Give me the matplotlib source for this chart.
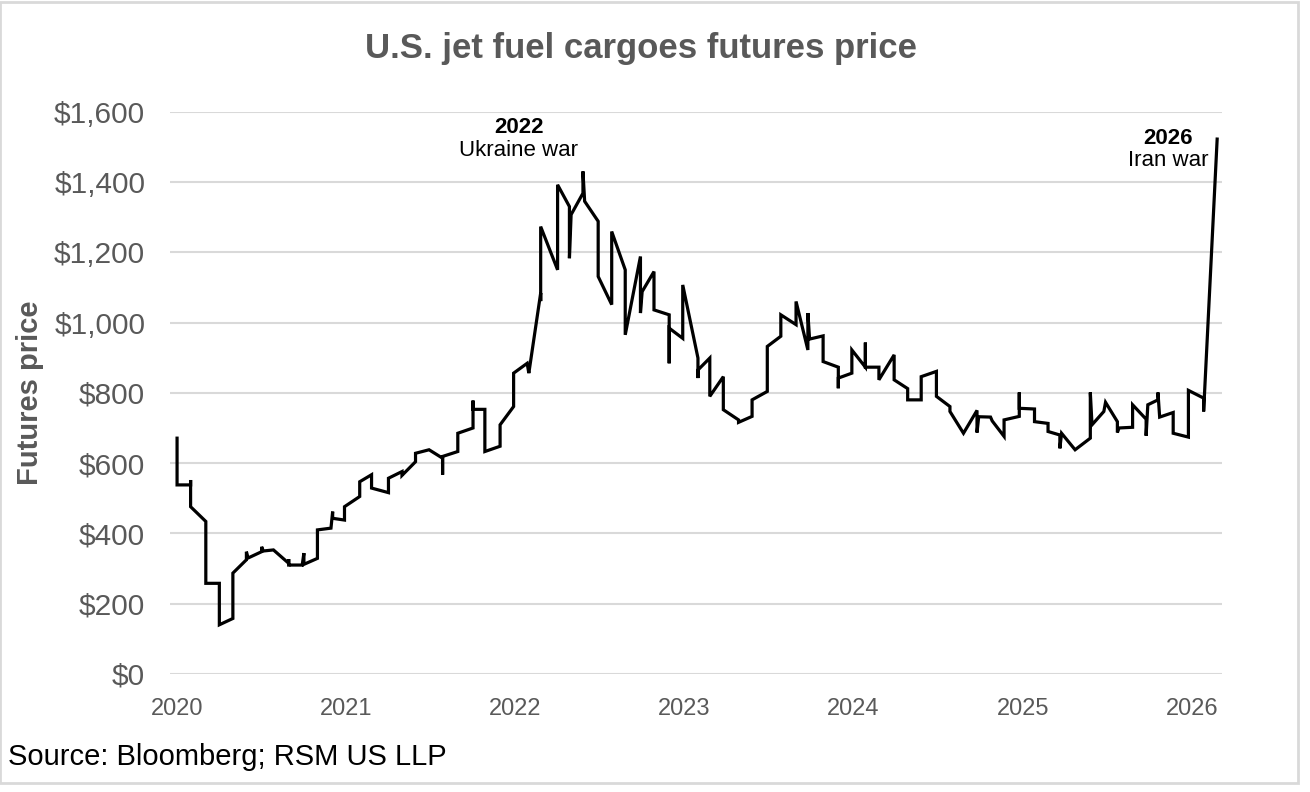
import matplotlib
matplotlib.use('Agg')
import matplotlib.pyplot as plt
from matplotlib.patches import Rectangle
from matplotlib.ticker import FuncFormatter

plt.rcParams['font.family'] = ['Liberation Sans', 'DejaVu Sans']

# Jet fuel futures price, decimal year vs $
years = [
    2020.00, 2020.00, 2020.08, 2020.08, 2020.08, 2020.17, 2020.17, 2020.25, 2020.25, 2020.33,
    2020.33, 2020.41, 2020.41, 2020.42, 2020.50, 2020.50, 2020.51, 2020.57, 2020.66, 2020.66,
    2020.66, 2020.74, 2020.75, 2020.75, 2020.83, 2020.83, 2020.91, 2020.92, 2020.92, 2020.99,
    2020.99, 2021.08, 2021.08, 2021.15, 2021.15, 2021.25, 2021.25, 2021.33, 2021.33, 2021.41,
    2021.41, 2021.49, 2021.57, 2021.57, 2021.57, 2021.66, 2021.66, 2021.75, 2021.75, 2021.75,
    2021.82, 2021.82, 2021.91, 2021.91, 2021.99, 2021.99, 2022.07, 2022.08, 2022.15, 2022.15,
    2022.15, 2022.25, 2022.25, 2022.32, 2022.32, 2022.33, 2022.40, 2022.40, 2022.41, 2022.49,
    2022.49, 2022.57, 2022.57, 2022.65, 2022.65, 2022.74, 2022.74, 2022.75, 2022.82, 2022.82,
    2022.91, 2022.91, 2022.91, 2022.99, 2022.99, 2023.08, 2023.08, 2023.08, 2023.15, 2023.15,
    2023.23, 2023.23, 2023.32, 2023.32, 2023.40, 2023.40, 2023.49, 2023.49, 2023.57, 2023.57,
    2023.66, 2023.66, 2023.73, 2023.73, 2023.74, 2023.82, 2023.82, 2023.91, 2023.91, 2023.91,
    2023.99, 2023.99, 2024.07, 2024.07, 2024.07, 2024.15, 2024.15, 2024.24, 2024.24, 2024.32,
    2024.32, 2024.40, 2024.40, 2024.49, 2024.49, 2024.57, 2024.57, 2024.65, 2024.73, 2024.73,
    2024.74, 2024.81, 2024.82, 2024.89, 2024.89, 2024.98, 2024.98, 2024.98, 2025.07, 2025.07,
    2025.15, 2025.15, 2025.22, 2025.22, 2025.23, 2025.31, 2025.40, 2025.40, 2025.41, 2025.48,
    2025.49, 2025.56, 2025.56, 2025.57, 2025.65, 2025.65, 2025.73, 2025.73, 2025.74, 2025.80,
    2025.80, 2025.81, 2025.89, 2025.89, 2025.98, 2025.98, 2026.07, 2026.07, 2026.15,
]
prices = [
    671, 538, 538, 552, 476, 434, 258, 258, 140, 158,
    287, 325, 348, 330, 348, 362, 350, 353, 315, 327,
    310, 310, 344, 312, 329, 410, 415, 462, 443, 438,
    476, 505, 547, 567, 529, 516, 557, 576, 565, 604,
    628, 638, 614, 567, 619, 633, 685, 700, 778, 753,
    753, 633, 648, 709, 761, 856, 884, 856, 1084, 1061,
    1273, 1150, 1392, 1330, 1183, 1307, 1368, 1430, 1345, 1288,
    1131, 1051, 1259, 1150, 965, 1188, 1027, 1088, 1145, 1036,
    1022, 884, 984, 955, 1107, 899, 842, 865, 899, 790,
    846, 752, 723, 716, 733, 780, 804, 932, 961, 1022,
    994, 1060, 922, 1027, 953, 962, 889, 873, 813, 842,
    856, 922, 873, 943, 873, 873, 837, 908, 837, 812,
    780, 780, 846, 861, 790, 761, 747, 685, 750, 687,
    732, 731, 720, 676, 723, 733, 801, 756, 754, 718,
    713, 690, 680, 642, 685, 638, 671, 801, 709, 747,
    773, 718, 687, 700, 702, 766, 725, 678, 766, 780,
    801, 731, 744, 685, 674, 807, 785, 747, 1522,
]

year_ticks = [2020, 2021, 2022, 2023, 2024, 2025, 2026]
price_ticks = [0, 200, 400, 600, 800, 1000, 1200, 1400, 1600]

grey = '#595959'

fig = plt.figure(figsize=(13.1, 7.92), dpi=100)
ax = fig.add_axes([0.130, 0.149, 0.803, 0.710])

ax.plot(years, prices, color='black', lw=2.3, solid_joinstyle='miter', zorder=3)

ax.set_xlim(2019.96, 2026.18)
ax.set_ylim(0, 1600)
ax.set_xticks(year_ticks)
ax.set_xticklabels([str(y) for y in year_ticks])
ax.set_yticks(price_ticks)
ax.yaxis.set_major_formatter(FuncFormatter(lambda v, p: f'${v:,.0f}'))
ax.tick_params(axis='both', length=0, colors=grey)
ax.tick_params(axis='y', labelsize=21.5, pad=18)
ax.tick_params(axis='x', labelsize=17, pad=17)
for s in ax.spines.values():
    s.set_visible(False)
ax.grid(axis='y', color='#d9d9d9', lw=1.5, zorder=0)

ax.set_ylabel('Futures price', fontsize=21, fontweight='bold', color=grey)
ax.yaxis.set_label_coords(-0.12, 0.50)

fig.text(0.489, 0.939, 'U.S. jet fuel cargoes futures price', ha='center', va='center',
         fontsize=25, fontweight='bold', color=grey)

# event labels
ax.text(2022.02, 1555, '2022', ha='center', va='center', fontsize=16, fontweight='bold')
ax.text(2022.02, 1490, 'Ukraine war', ha='center', va='center', fontsize=16)
ax.text(2025.86, 1525, '2026', ha='center', va='center', fontsize=16, fontweight='bold')
ax.text(2025.86, 1462, 'Iran war', ha='center', va='center', fontsize=16)

fig.text(0.006, 0.044, 'Source: Bloomberg; RSM US LLP', ha='left', va='center',
         fontsize=21, color='black')

# light frame around the chart
fig.patches.append(Rectangle((0.0, 0.011), 0.991, 0.986, transform=fig.transFigure,
                             fill=False, edgecolor='#d9d9d9', lw=2))

fig.savefig('out.png', dpi=100, facecolor='white')
